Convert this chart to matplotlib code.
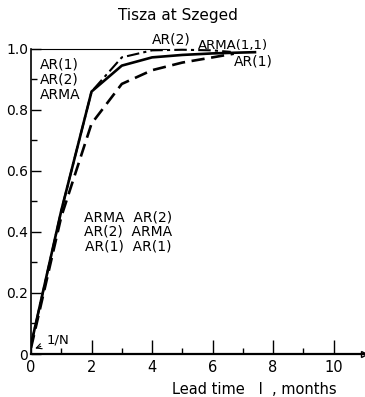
import matplotlib.pyplot as plt
from matplotlib.ticker import FixedLocator, FuncFormatter

# lead times (months) and efficiency curves
lead_solid = [0, 1, 2, 3, 4, 5, 6, 7, 7.4]
eff_solid = [0.03, 0.47, 0.86, 0.945, 0.972, 0.980, 0.985, 0.988, 0.989]

lead_dashdot = [0, 1, 2, 3, 4, 5, 6, 6.6]
eff_dashdot = [0.03, 0.47, 0.86, 0.972, 0.995, 0.997, 0.995, 0.990]

lead_dashed = [0, 1, 2, 3, 4, 5, 6, 6.7]
eff_dashed = [0.02, 0.45, 0.755, 0.885, 0.93, 0.955, 0.972, 0.984]

upper_limit = 1.0
upper_limit_end = 4.5

x_ticks = [0, 2, 4, 6, 8, 10]
x_minor = [1, 3, 5, 7, 9]
y_ticks = [0, 0.2, 0.4, 0.6, 0.8, 1.0]
y_minor = [0.1, 0.3, 0.5, 0.7, 0.9]

plt.rcParams['font.family'] = ['DejaVu Sans']

fig = plt.figure(figsize=(3.65, 3.97), dpi=100)
ax = fig.add_axes([0.085, 0.1083, 0.912, 0.884])

ax.hlines(upper_limit, 0, upper_limit_end, color='black', lw=0.8)
ax.plot(lead_dashed, eff_dashed, color='black', lw=1.9, linestyle=(0, (5, 2.5)))
ax.plot(lead_dashdot, eff_dashdot, color='black', lw=1.5, linestyle=(0, (6, 2, 1.5, 2)))
ax.plot(lead_solid, eff_solid, color='black', lw=1.9)

ax.set_xlim(0, 11)
ax.set_ylim(0, 1.15)
ax.spines['top'].set_visible(False)
ax.spines['right'].set_visible(False)
ax.spines['left'].set_bounds(0, 1.0)
ax.spines['bottom'].set_linewidth(1.6)
ax.spines['left'].set_linewidth(1.2)
ax.plot(1, 0, '>', color='black', ms=5, mfc='white', transform=ax.transAxes, clip_on=False)

ax.set_xticks(x_ticks)
ax.set_yticks(y_ticks)
ax.xaxis.set_minor_locator(FixedLocator(x_minor))
ax.yaxis.set_minor_locator(FixedLocator(y_minor))
ax.yaxis.set_major_formatter(FuncFormatter(lambda v, p: '0' if v == 0 else f'{v:.1f}'))
ax.tick_params(axis='both', which='major', direction='in', width=1)
ax.tick_params(axis='x', which='major', length=10, pad=4, labelsize=10.5)
ax.tick_params(axis='y', which='major', length=7.5, pad=2, labelsize=10)
ax.tick_params(axis='both', which='minor', direction='in', length=4, width=1)

ax.text(4.85, 1.11, 'Tisza at Szeged', fontsize=11, ha='center', va='center')
ax.text(4.65, -0.115, 'Lead time   l  , months', fontsize=10.5, ha='left', va='center')

ax.text(0.3, 0.90, 'AR(1)\nAR(2)\nARMA', fontsize=10, ha='left', va='center', linespacing=1.12)
ax.text(3.2, 0.40, 'ARMA  AR(2)\nAR(2)  ARMA\nAR(1)  AR(1)', fontsize=10,
        ha='center', va='center', linespacing=1.08)
ax.text(4.0, 1.03, 'AR(2)', fontsize=10, ha='left', va='center')
ax.text(5.5, 1.01, 'ARMA(1,1)', fontsize=9.5, ha='left', va='center')
ax.text(6.7, 0.96, 'AR(1)', fontsize=10, ha='left', va='center')

ax.annotate('1/N', xy=(0.05, 0.015), xytext=(0.5, 0.045), fontsize=9.5,
            ha='left', va='center',
            arrowprops=dict(arrowstyle='->', color='black', lw=0.8))

fig.savefig('out.png', dpi=100)
